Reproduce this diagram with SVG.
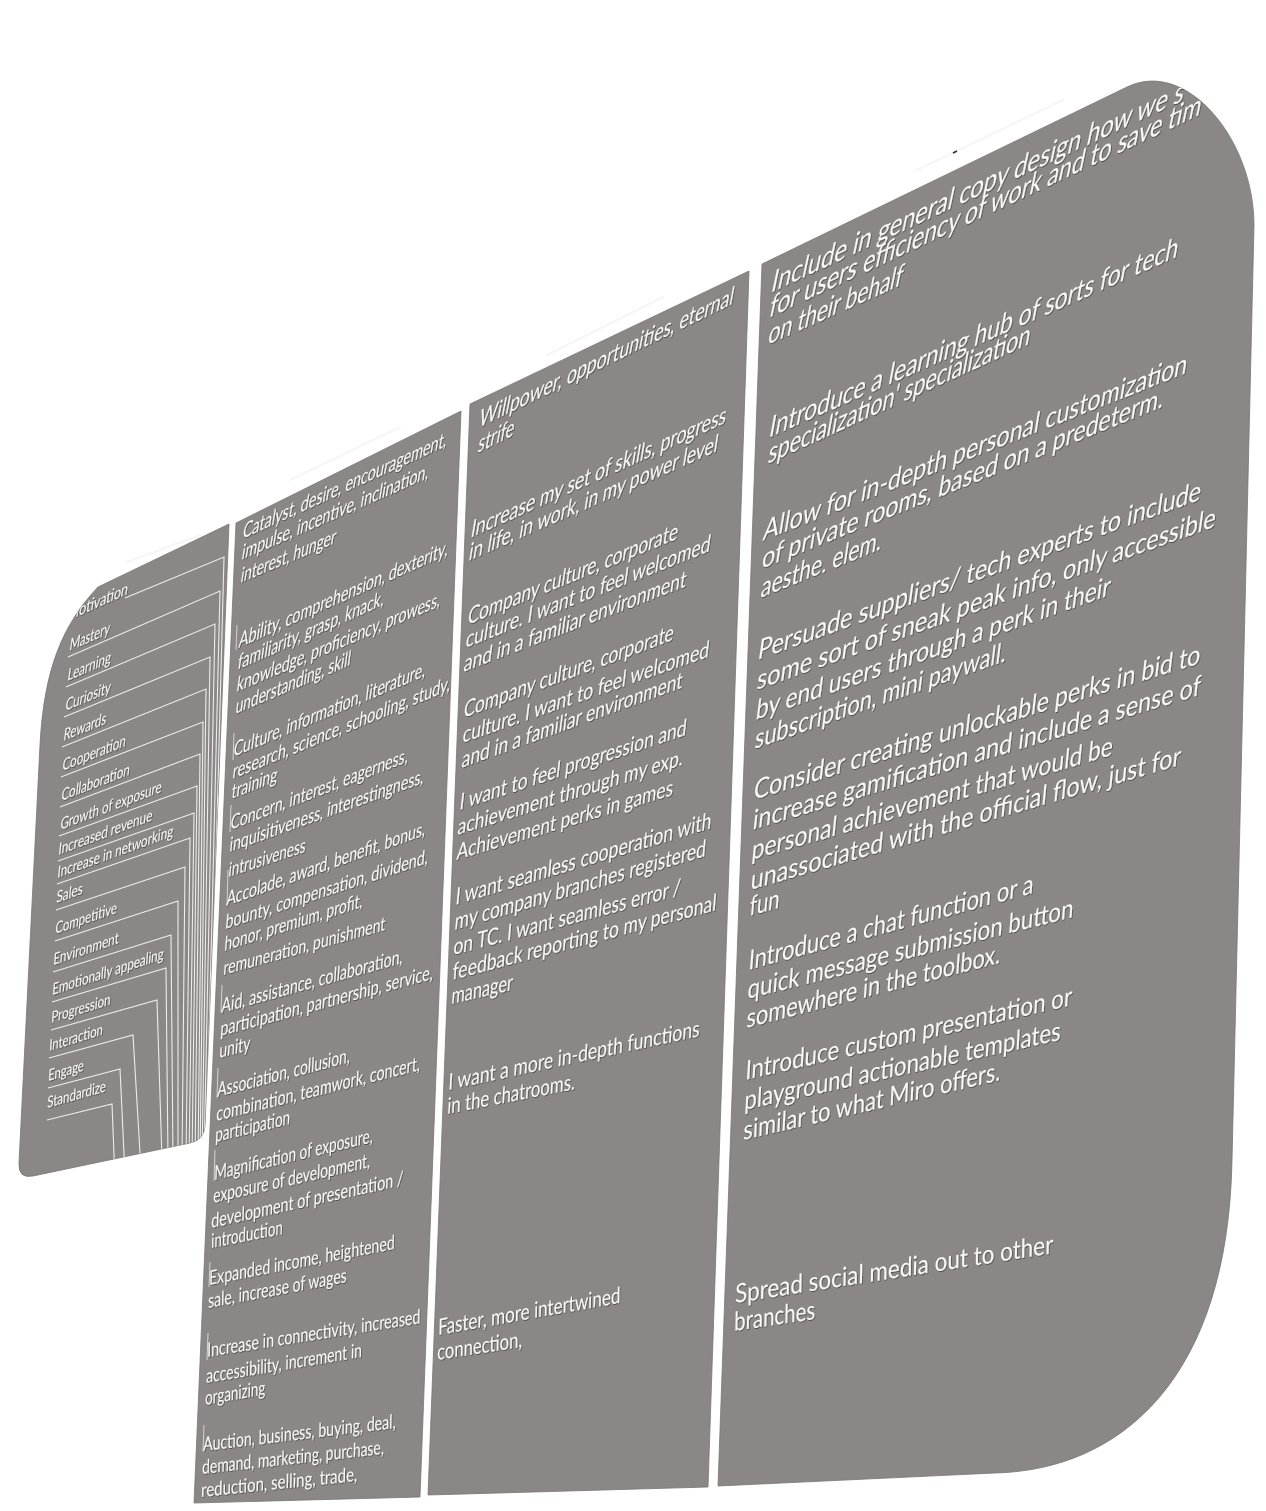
<svg xmlns="http://www.w3.org/2000/svg" width="1266" height="1511" viewBox="0 0 1266 1511">
<style>
.panel{fill:#8c8787;stroke:#7a7575;stroke-width:0.8}
.t{font-family:Lato,"Open Sans","Liberation Sans",sans-serif;fill:#f7f7f7}
.c1{font-size:15px}
.c2{font-size:18.5px}
.c2b{font-size:19.5px}
.c3{font-size:21px}
.c3b{font-size:22px}
.c4{font-size:25.5px}
.c4b{font-size:26px}
.ln{stroke:#ececec;stroke-width:1.1;fill:none}
.cell{stroke:#e6e6e6;stroke-width:0.8;fill:none}
.refl{stroke:#f6f6f6;stroke-width:2;fill:none;stroke-linecap:round}
</style>
<defs>
<filter id="sh" x="-5%" y="-5%" width="110%" height="110%">
<feDropShadow dx="0.7" dy="0.9" stdDeviation="0.7" flood-color="#000" flood-opacity="0.45"/>
</filter>
<clipPath id="cp1"><path d="M98,587 L229,524 L205,1126 Q204,1140 190,1143 L33,1176 Q18,1179 19,1163 L40,745 C44,670 62,625 98,587 Z"/></clipPath>
<clipPath id="cp2"><path d="M236,523 L461,411 L420,1497 L194,1503 Z"/></clipPath>
<clipPath id="cp3"><path d="M470,404 L749,271 L708,1487 L428,1495 Z"/></clipPath>
<clipPath id="cp4"><path d="M762,264 L1127,87 C1187,58 1254,140 1254,225 L1232,1160 C1228,1380 1120,1470 995,1473 L718,1486 Z"/></clipPath>
</defs>
<rect width="1266" height="1511" fill="#ffffff"/>

<g id="reflections">
<line class="refl" x1="127" y1="562" x2="200" y2="535"/>
<line class="refl" x1="290" y1="480" x2="400" y2="427"/>
<line class="refl" x1="547" y1="355" x2="663" y2="297"/>
<line class="refl" x1="917" y1="170" x2="1063" y2="100"/>
<line x1="953" y1="153" x2="957" y2="151" stroke="#333" stroke-width="1.6"/>
</g>

<g id="panel-labels">
<path class="panel" d="M98,587 L229,524 L205,1126 Q204,1140 190,1143 L33,1176 Q18,1179 19,1163 L40,745 C44,670 62,625 98,587 Z"/>
<g clip-path="url(#cp1)">
<g id="label-lines">
<polyline class="ln" points="125,598 224,557 208,1160"/>
<polyline class="ln" points="68,657 220,591 206,1160"/>
<polyline class="ln" points="66,687 215,624 204,1160"/>
<polyline class="ln" points="64,717 210,657 202,1160"/>
<polyline class="ln" points="62,747 206,689 200,1160"/>
<polyline class="ln" points="61,777 203,722 198,1160"/>
<polyline class="ln" points="60,807 200,754 195,1160"/>
<polyline class="ln" points="59,836 197,786 192,1160"/>
<polyline class="ln" points="58,861 194,813 189,1160"/>
<polyline class="ln" points="57,884 190,838 186,1160"/>
<polyline class="ln" points="56,910 185,867 182,1160"/>
<polyline class="ln" points="55,941 178,901 178,1160"/>
<polyline class="ln" points="53,972 171,935 173,1160"/>
<polyline class="ln" points="52,1002 166,968 168,1160"/>
<polyline class="ln" points="51,1030 157,1000 162,1160"/>
<polyline class="ln" points="49,1058 133,1035 141,1170"/>
<polyline class="ln" points="48,1088 120,1069 125,1175"/>
<polyline class="ln" points="47,1120 112,1104 115,1180"/>
</g>
<g class="t c1" filter="url(#sh)">
<text transform="translate(67,621) rotate(-24) skewX(-32.5)" textLength="66" lengthAdjust="spacingAndGlyphs">Motivation</text>
<text transform="translate(69,651) rotate(-23.5) skewX(-31.6)" textLength="44" lengthAdjust="spacingAndGlyphs">Mastery</text>
<text transform="translate(67,681) rotate(-23) skewX(-30.8)" textLength="47" lengthAdjust="spacingAndGlyphs">Learning</text>
<text transform="translate(65,711) rotate(-22.5) skewX(-30)" textLength="49" lengthAdjust="spacingAndGlyphs">Curiosity</text>
<text transform="translate(63,741) rotate(-22) skewX(-29.1)" textLength="46" lengthAdjust="spacingAndGlyphs">Rewards</text>
<text transform="translate(62,771) rotate(-21.5) skewX(-28.3)" textLength="68" lengthAdjust="spacingAndGlyphs">Cooperation</text>
<text transform="translate(61,801) rotate(-21) skewX(-27.5)" textLength="73" lengthAdjust="spacingAndGlyphs">Collaboration</text>
<text transform="translate(60,830) rotate(-20.6) skewX(-26.8)" textLength="108" lengthAdjust="spacingAndGlyphs">Growth of exposure</text>
<text transform="translate(58,855) rotate(-20.2) skewX(-26.1)" textLength="100" lengthAdjust="spacingAndGlyphs">Increased revenue</text>
<text transform="translate(57,878) rotate(-19.8) skewX(-25.4)" textLength="123" lengthAdjust="spacingAndGlyphs">Increase in networking</text>
<text transform="translate(56,903) rotate(-19.4) skewX(-24.8)" textLength="28" lengthAdjust="spacingAndGlyphs">Sales</text>
<text transform="translate(55,934) rotate(-18.9) skewX(-23.9)" textLength="65" lengthAdjust="spacingAndGlyphs">Competitive</text>
<text transform="translate(53,965) rotate(-18.4) skewX(-23.1)" textLength="69" lengthAdjust="spacingAndGlyphs">Environment</text>
<text transform="translate(52,995) rotate(-17.9) skewX(-22.3)" textLength="117" lengthAdjust="spacingAndGlyphs">Emotionally appealing</text>
<text transform="translate(51,1023) rotate(-17.4) skewX(-21.4)" textLength="62" lengthAdjust="spacingAndGlyphs">Progression</text>
<text transform="translate(49,1051) rotate(-17) skewX(-20.7)" textLength="56" lengthAdjust="spacingAndGlyphs">Interaction</text>
<text transform="translate(48,1081) rotate(-16.4) skewX(-19.8)" textLength="37" lengthAdjust="spacingAndGlyphs">Engage</text>
<text transform="translate(47,1108) rotate(-16) skewX(-19.1)" textLength="61" lengthAdjust="spacingAndGlyphs">Standardize</text>
</g>
</g>
</g>

<g id="column-synonyms">
<path class="panel" d="M236,523 L461,411 L420,1497 L194,1503 Z"/>
<g clip-path="url(#cp2)">
<g id="cell-borders-2">
<line class="cell" x1="237" y1="625" x2="236" y2="650"/>
<line class="cell" x1="234" y1="733" x2="233" y2="760"/>
<line class="cell" x1="231" y1="805" x2="230" y2="832"/>
<line class="cell" x1="228" y1="870" x2="227" y2="905"/>
<line class="cell" x1="222" y1="985" x2="221" y2="1012"/>
<line class="cell" x1="218" y1="1068" x2="217" y2="1098"/>
<line class="cell" x1="215" y1="1150" x2="214" y2="1181"/>
<line class="cell" x1="210" y1="1262" x2="209" y2="1287"/>
<line class="cell" x1="208" y1="1333" x2="207" y2="1360"/>
<line class="cell" x1="204" y1="1425" x2="203" y2="1452"/>
</g>
<g class="t c2" filter="url(#sh)">
<text transform="translate(242,539) rotate(-24.5) skewX(-33.9)" textLength="224" lengthAdjust="spacingAndGlyphs">Catalyst, desire, encouragement,</text>
<text transform="translate(241,560) rotate(-23.7) skewX(-32.8)" textLength="204" lengthAdjust="spacingAndGlyphs">impulse, incentive, inclination,</text>
<text transform="translate(240,583) rotate(-22.8) skewX(-31.7)" textLength="103" lengthAdjust="spacingAndGlyphs">interest, hunger</text>
<text transform="translate(238,648) rotate(-24) skewX(-32.2)" textLength="229" lengthAdjust="spacingAndGlyphs">Ability, comprehension, dexterity,</text>
<text transform="translate(237,670) rotate(-24) skewX(-31.9)" textLength="160" lengthAdjust="spacingAndGlyphs">familiarity, grasp, knack,</text>
<text transform="translate(236,692) rotate(-22.9) skewX(-30.6)" textLength="221" lengthAdjust="spacingAndGlyphs">knowledge, proficiency, prowess,</text>
<text transform="translate(235,714) rotate(-23) skewX(-30.4)" textLength="125" lengthAdjust="spacingAndGlyphs">understanding, skill</text>
<text transform="translate(233,757) rotate(-22.9) skewX(-29.9)" textLength="208" lengthAdjust="spacingAndGlyphs">Culture, information, literature,</text>
<text transform="translate(232,779) rotate(-22.2) skewX(-28.9)" textLength="235" lengthAdjust="spacingAndGlyphs">research, science, schooling, study,</text>
<text transform="translate(231,799) rotate(-21.4) skewX(-27.9)" textLength="49" lengthAdjust="spacingAndGlyphs">training</text>
<text transform="translate(230,830) rotate(-21) skewX(-27.2)" textLength="190" lengthAdjust="spacingAndGlyphs">Concern, interest, eagerness,</text>
<text transform="translate(229,852) rotate(-19.6) skewX(-25.5)" textLength="206" lengthAdjust="spacingAndGlyphs">inquisitiveness, interestingness,</text>
<text transform="translate(228,877) rotate(-18) skewX(-23.7)" textLength="81" lengthAdjust="spacingAndGlyphs">intrusiveness</text>
<text transform="translate(226,906) rotate(-19.6) skewX(-24.9)" textLength="211" lengthAdjust="spacingAndGlyphs">Accolade, award, benefit, bonus,</text>
<text transform="translate(225,929) rotate(-18) skewX(-23.1)" textLength="213" lengthAdjust="spacingAndGlyphs">bounty, compensation, dividend,</text>
<text transform="translate(224,951) rotate(-17.7) skewX(-22.5)" textLength="145" lengthAdjust="spacingAndGlyphs">honor, premium, profit,</text>
<text transform="translate(223,975) rotate(-15.5) skewX(-20.1)" textLength="168" lengthAdjust="spacingAndGlyphs">remuneration, punishment</text>
<g class="c2b">
<text transform="translate(221,1013) rotate(-15.4) skewX(-19.6)" textLength="188" lengthAdjust="spacingAndGlyphs">Aid, assistance, collaboration,</text>
<text transform="translate(220,1036) rotate(-15) skewX(-18.9)" textLength="220" lengthAdjust="spacingAndGlyphs">participation, partnership, service,</text>
<text transform="translate(219,1058) rotate(-14.5) skewX(-18.2)" textLength="32" lengthAdjust="spacingAndGlyphs">unity</text>
<text transform="translate(217,1097) rotate(-14.7) skewX(-17.9)" textLength="137" lengthAdjust="spacingAndGlyphs">Association, collusion,</text>
<text transform="translate(216,1121) rotate(-14) skewX(-17)" textLength="210" lengthAdjust="spacingAndGlyphs">combination, teamwork, concert,</text>
<text transform="translate(215,1142) rotate(-13.5) skewX(-16.2)" textLength="77" lengthAdjust="spacingAndGlyphs">participation</text>
<text transform="translate(214,1180) rotate(-13.4) skewX(-15.7)" textLength="163" lengthAdjust="spacingAndGlyphs">Magnification of exposure,</text>
<text transform="translate(213,1203) rotate(-12.9) skewX(-15)" textLength="161" lengthAdjust="spacingAndGlyphs">exposure of development,</text>
<text transform="translate(211,1228) rotate(-12.6) skewX(-14.4)" textLength="197" lengthAdjust="spacingAndGlyphs">development of presentation /</text>
<text transform="translate(211,1248) rotate(-11) skewX(-12.6)" textLength="73" lengthAdjust="spacingAndGlyphs">introduction</text>
<text transform="translate(209,1285) rotate(-11) skewX(-12.2)" textLength="189" lengthAdjust="spacingAndGlyphs">Expanded income, heightened</text>
<text transform="translate(208,1308) rotate(-10.6) skewX(-11.6)" textLength="141" lengthAdjust="spacingAndGlyphs">sale, increase of wages</text>
<text transform="translate(207,1357) rotate(-9) skewX(-10)" textLength="216" lengthAdjust="spacingAndGlyphs">Increase in connectivity, increased</text>
<text transform="translate(206,1383) rotate(-9.5) skewX(-10.5)" textLength="158" lengthAdjust="spacingAndGlyphs">accessibility, increment in</text>
<text transform="translate(205,1405) rotate(-10) skewX(-11)" textLength="61" lengthAdjust="spacingAndGlyphs">organizing</text>
<text transform="translate(203,1451) rotate(-6.8) skewX(-7.8)" textLength="194" lengthAdjust="spacingAndGlyphs">Auction, business, buying, deal,</text>
<text transform="translate(202,1474) rotate(-6.3) skewX(-7.3)" textLength="183" lengthAdjust="spacingAndGlyphs">demand, marketing, purchase,</text>
<text transform="translate(201,1497) rotate(-5.9) skewX(-6.9)" textLength="157" lengthAdjust="spacingAndGlyphs">reduction, selling, trade,</text>
</g>
</g>
</g>
</g>

<g id="column-needs">
<path class="panel" d="M470,404 L749,271 L708,1487 L428,1495 Z"/>
<g class="t c3" filter="url(#sh)" clip-path="url(#cp3)">
<text transform="translate(478,428) rotate(-26) skewX(-36.6)" textLength="283" lengthAdjust="spacingAndGlyphs">Willpower, opportunities, eternal</text>
<text transform="translate(477,453) rotate(-26) skewX(-36.3)" textLength="40" lengthAdjust="spacingAndGlyphs">strife</text>
<text transform="translate(470,538) rotate(-24.3) skewX(-33.7)" textLength="280" lengthAdjust="spacingAndGlyphs">Increase my set of skills, progress</text>
<text transform="translate(468,561) rotate(-23.8) skewX(-32.9)" textLength="272" lengthAdjust="spacingAndGlyphs">in life, in work, in my power level</text>
<text transform="translate(467,625) rotate(-22.3) skewX(-30.7)" textLength="227" lengthAdjust="spacingAndGlyphs">Company culture, corporate</text>
<text transform="translate(465,648) rotate(-21.6) skewX(-29.8)" textLength="263" lengthAdjust="spacingAndGlyphs">culture. I want to feel welcomed</text>
<text transform="translate(463,672) rotate(-21) skewX(-28.9)" textLength="238" lengthAdjust="spacingAndGlyphs">and in a familiar environment</text>
<text transform="translate(463,718) rotate(-20.4) skewX(-27.8)" textLength="224" lengthAdjust="spacingAndGlyphs">Company culture, corporate</text>
<text transform="translate(462,743) rotate(-19.3) skewX(-26.4)" textLength="261" lengthAdjust="spacingAndGlyphs">culture. I want to feel welcomed</text>
<text transform="translate(461,768) rotate(-20) skewX(-26.9)" textLength="235" lengthAdjust="spacingAndGlyphs">and in a familiar environment</text>
<text transform="translate(459,810) rotate(-18.3) skewX(-24.7)" textLength="239" lengthAdjust="spacingAndGlyphs">I want to feel progression and</text>
<text transform="translate(457,835) rotate(-17.3) skewX(-23.4)" textLength="236" lengthAdjust="spacingAndGlyphs">achievement through my exp.</text>
<text transform="translate(456,860) rotate(-16.7) skewX(-22.5)" textLength="226" lengthAdjust="spacingAndGlyphs">Achievement perks in games</text>
<g class="c3b">
<text transform="translate(455,905) rotate(-16.7) skewX(-22)" textLength="267" lengthAdjust="spacingAndGlyphs">I want seamless cooperation with</text>
<text transform="translate(454,930) rotate(-16.4) skewX(-21.5)" textLength="262" lengthAdjust="spacingAndGlyphs">my company branches registered</text>
<text transform="translate(453,955) rotate(-14.8) skewX(-19.6)" textLength="235" lengthAdjust="spacingAndGlyphs">on TC. I want seamless error /</text>
<text transform="translate(452,980) rotate(-14.8) skewX(-19.3)" textLength="273" lengthAdjust="spacingAndGlyphs">feedback reporting to my personal</text>
<text transform="translate(451,1004) rotate(-13) skewX(-17.3)" textLength="63" lengthAdjust="spacingAndGlyphs">manager</text>
<text transform="translate(448,1090) rotate(-12.1) skewX(-15.4)" textLength="257" lengthAdjust="spacingAndGlyphs">I want a more in-depth functions</text>
<text transform="translate(447,1114) rotate(-11) skewX(-14)" textLength="130" lengthAdjust="spacingAndGlyphs">in the chatrooms.</text>
<text transform="translate(438,1335) rotate(-10) skewX(-11)" textLength="185" lengthAdjust="spacingAndGlyphs">Faster, more intertwined</text>
<text transform="translate(437,1360) rotate(-8.7) skewX(-9.7)" textLength="86" lengthAdjust="spacingAndGlyphs">connection,</text>
</g>
</g>
</g>

<g id="column-ideas">
<path class="panel" d="M762,264 L1127,87 C1187,58 1254,140 1254,225 L1232,1160 C1228,1380 1120,1470 995,1473 L718,1486 Z"/>
<g class="t c4" filter="url(#sh)" clip-path="url(#cp4)">
<text transform="translate(770,293) rotate(-25) skewX(-37.1)" textLength="455" lengthAdjust="spacingAndGlyphs">Include in general copy design  how we s</text>
<text transform="translate(768,318) rotate(-25.2) skewX(-37)" textLength="477" lengthAdjust="spacingAndGlyphs">for users efficiency of work and to save tim</text>
<text transform="translate(767,345) rotate(-24.1) skewX(-35.6)" textLength="147" lengthAdjust="spacingAndGlyphs">on their behalf</text>
<text transform="translate(768,438) rotate(-23.9) skewX(-34.4)" textLength="447" lengthAdjust="spacingAndGlyphs">Introduce a learning hub of sorts for tech</text>
<text transform="translate(767,464) rotate(-24.6) skewX(-34.8)" textLength="288" lengthAdjust="spacingAndGlyphs">specialization' specialization</text>
<text transform="translate(762,541) rotate(-21.6) skewX(-30.9)" textLength="456" lengthAdjust="spacingAndGlyphs">Allow for in-depth personal customization</text>
<text transform="translate(761,569) rotate(-22) skewX(-31)" textLength="433" lengthAdjust="spacingAndGlyphs">of private rooms, based on a predeterm.</text>
<text transform="translate(760,598) rotate(-22) skewX(-30.7)" textLength="130" lengthAdjust="spacingAndGlyphs">aesthe. elem.</text>
<text transform="translate(757,660) rotate(-19.9) skewX(-27.9)" textLength="471" lengthAdjust="spacingAndGlyphs">Persuade suppliers/ tech experts to include</text>
<text transform="translate(756,690) rotate(-19.6) skewX(-27.3)" textLength="487" lengthAdjust="spacingAndGlyphs">some sort of sneak peak info, only accessible</text>
<text transform="translate(755,720) rotate(-19.4) skewX(-26.8)" textLength="376" lengthAdjust="spacingAndGlyphs">by end users through a perk in their</text>
<text transform="translate(754,749) rotate(-19.3) skewX(-26.4)" textLength="266" lengthAdjust="spacingAndGlyphs">subscription, mini paywall.</text>
<g class="c4b">
<text transform="translate(753,800) rotate(-17) skewX(-23.5)" textLength="467" lengthAdjust="spacingAndGlyphs">Consider creating unlockable perks in bid to</text>
<text transform="translate(752,830) rotate(-16.8) skewX(-23)" textLength="468" lengthAdjust="spacingAndGlyphs">increase gamification and include a sense of</text>
<text transform="translate(751,860) rotate(-16.2) skewX(-22)" textLength="376" lengthAdjust="spacingAndGlyphs">personal achievement that would be</text>
<text transform="translate(750,890) rotate(-16.2) skewX(-21.7)" textLength="448" lengthAdjust="spacingAndGlyphs">unassociated with the official flow, just for</text>
<text transform="translate(749,916) rotate(-15) skewX(-20.2)" textLength="31" lengthAdjust="spacingAndGlyphs">fun</text>
<text transform="translate(748,970) rotate(-15.1) skewX(-19.7)" textLength="295" lengthAdjust="spacingAndGlyphs">Introduce a chat function or a</text>
<text transform="translate(747,999) rotate(-14.1) skewX(-18.4)" textLength="336" lengthAdjust="spacingAndGlyphs">quick message submission button</text>
<text transform="translate(746,1028) rotate(-14.4) skewX(-18.4)" textLength="262" lengthAdjust="spacingAndGlyphs">somewhere in the toolbox.</text>
<text transform="translate(745,1080) rotate(-12.9) skewX(-16.3)" textLength="335" lengthAdjust="spacingAndGlyphs">Introduce custom presentation or</text>
<text transform="translate(744,1110) rotate(-12.5) skewX(-15.6)" textLength="324" lengthAdjust="spacingAndGlyphs">playground actionable templates</text>
<text transform="translate(743,1140) rotate(-13.1) skewX(-15.9)" textLength="264" lengthAdjust="spacingAndGlyphs">similar to what Miro offers.</text>
<text transform="translate(735,1303) rotate(-8.9) skewX(-9.9)" textLength="322" lengthAdjust="spacingAndGlyphs">Spread social media out to other</text>
<text transform="translate(734,1331) rotate(-8.4) skewX(-9.4)" textLength="82" lengthAdjust="spacingAndGlyphs">branches</text>
</g>
</g>
</g>
</svg>
